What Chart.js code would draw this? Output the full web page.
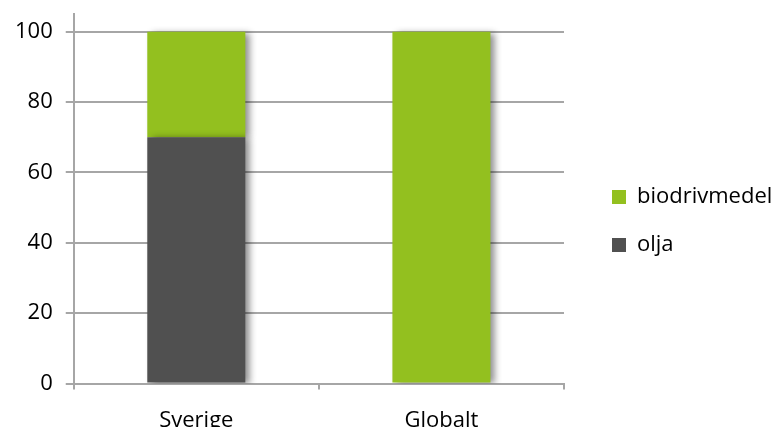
<!DOCTYPE html>
<html>
<head>
<meta charset="utf-8">
<script src="https://cdn.jsdelivr.net/npm/chart.js@4/dist/chart.umd.min.js"></script>
<style>
html,body{margin:0;padding:0;background:#fff;overflow:hidden;}
#wrap{width:778px;height:427px;position:relative;overflow:hidden;}
canvas{display:block;}
</style>
</head>
<body>
<div id="wrap"><canvas id="c" width="778" height="427"></canvas></div>
<script>
const categories = ["Sverige", "Globalt"];
const oljaValues = [70, 0];
const biodrivmedelValues = [30, 100];
const seriesNames = ["olja", "biodrivmedel"];
const seriesColors = ["#505050", "#93c01f"];
const yTicks = [0, 20, 40, 60, 80, 100];

const shadowPlugin = {
  id: 'barShadow',
  beforeDatasetsDraw(chart) {
    const ctx = chart.ctx;
    ctx.save();
    ctx.shadowColor = 'rgba(0,0,0,0.45)';
    ctx.shadowBlur = 7;
    ctx.shadowOffsetX = 5;
    ctx.shadowOffsetY = 1;
  },
  afterDatasetsDraw(chart) {
    chart.ctx.restore();
  }
};

// keep the legend at a fixed width and leave a gap between plot and legend items
const LEGEND_WIDTH = 214;
const LEGEND_SHIFT = 22;
const LEGEND_CENTER_Y = 221;
const legendPlacePlugin = {
  id: 'legendPlace',
  beforeLayout(chart) {
    const lg = chart.legend;
    if (lg && !lg._wrappedFit) {
      const orig = lg.fit.bind(lg);
      lg.fit = function () {
        orig();
        this.width = LEGEND_WIDTH;
      };
      lg._wrappedFit = true;
    }
  },
  afterLayout(chart) {
    const lg = chart.legend;
    if (!lg) return;
    lg.left += LEGEND_SHIFT;
    const c = (lg.top + lg.bottom) / 2;
    const d = LEGEND_CENTER_Y - c;
    lg.top += d; lg.bottom += d;
  }
};

const grid = '#a6a6a6';
const font = {family: "'Open Sans', sans-serif", size: 22};
const yFont = {family: "'Open Sans', sans-serif", size: 22, lineHeight: 0.1};

new Chart(document.getElementById('c'), {
  type: 'bar',
  data: {
    labels: categories,
    datasets: [
      {label: seriesNames[0], data: oljaValues, backgroundColor: seriesColors[0], barPercentage: 0.4, categoryPercentage: 1},
      {label: seriesNames[1], data: biodrivmedelValues, backgroundColor: seriesColors[1], barPercentage: 0.4, categoryPercentage: 1}
    ]
  },
  options: {
    responsive: false,
    animation: false,
    layout: {padding: {top: 0, left: 2, right: 0, bottom: -25}},
    plugins: {
      legend: {
        position: 'right',
        reverse: true,
        labels: {
          font: {family: "'Open Sans', sans-serif", size: 22},
          color: '#000',
          boxWidth: 14,
          boxHeight: 14,
          padding: 26
        }
      },
      tooltip: {enabled: false}
    },
    scales: {
      x: {
        stacked: true,
        grid: {drawOnChartArea: false, color: grid, lineWidth: 2, tickLength: 6, tickColor: grid},
        border: {color: grid, width: 2},
        ticks: {font: font, color: '#000', padding: 18}
      },
      y: {
        stacked: true,
        min: 0,
        max: 105,
        afterBuildTicks: (axis) => { axis.ticks = yTicks.map(v => ({value: v})); },
        grid: {color: grid, lineWidth: 2, tickLength: 8, tickColor: grid},
        border: {color: grid, width: 2},
        ticks: {font: yFont, color: '#000', padding: 13}
      }
    }
  },
  plugins: [shadowPlugin, legendPlacePlugin]
});
</script>
</body>
</html>
